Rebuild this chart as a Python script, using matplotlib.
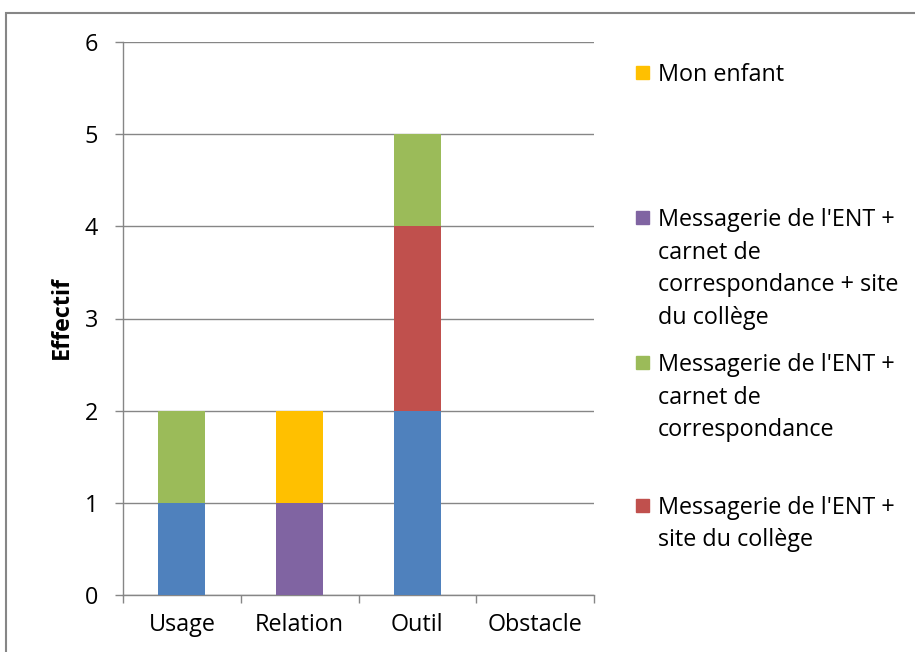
import matplotlib
matplotlib.use("Agg")
import matplotlib.pyplot as plt
from matplotlib.patches import Rectangle
import numpy as np

categories = ["Usage", "Relation", "Outil", "Obstacle"]
series_names = [
    "Messagerie de l'ENT",
    "Messagerie de l'ENT + site du collège",
    "Messagerie de l'ENT + carnet de correspondance",
    "Messagerie de l'ENT + carnet de correspondance + site du collège",
    "Mon enfant",
]
series_values = [
    [1, 0, 2, 0],
    [0, 0, 2, 0],
    [1, 0, 1, 0],
    [0, 1, 0, 0],
    [0, 1, 0, 0],
]
series_colors = ["#4F81BD", "#C0504D", "#9BBB59", "#8064A2", "#FFC000"]
yticks = [0, 1, 2, 3, 4, 5, 6]

# legend entries visible in the picture (top to bottom), with wrapped labels
legend_items = [
    (4, ["Mon enfant"]),
    (3, ["Messagerie de l'ENT +", "carnet de", "correspondance + site", "du collège"]),
    (2, ["Messagerie de l'ENT +", "carnet de", "correspondance"]),
    (1, ["Messagerie de l'ENT +", "site du collège"]),
]
legend_y = [72, 217, 362, 505]
line_step = 32.5

plt.rcParams['font.family'] = ['Open Sans', 'DejaVu Sans']
FS = 16.8
W, H = 915, 652
fig = plt.figure(figsize=(W / 100, H / 100), dpi=100)

# outer chart border (cropped on right and bottom)
fig.patches.append(Rectangle((6 / W, -0.1), 1.2, 1 - 13 / H + 0.1, transform=fig.transFigure,
                             fill=False, edgecolor="#868686", linewidth=1.5))

ax = fig.add_axes([123 / W, 1 - 595 / H, (594 - 123) / W, (595 - 42) / H])
x = np.arange(len(categories))
bottom = np.zeros(len(categories))
for vals, c in zip(series_values, series_colors):
    v = np.array(vals, dtype=float)
    ax.bar(x, v, width=0.4, bottom=bottom, color=c, zorder=3)
    bottom += v

ax.set_xlim(-0.5, len(categories) - 0.5)
ax.set_ylim(0, 6)
ax.set_yticks(yticks)
ax.set_yticklabels([str(t) for t in yticks], fontsize=FS)
ax.set_xticks(x)
ax.set_xticklabels(categories, fontsize=FS)
ax.tick_params(axis='x', length=0, pad=13)
ax.set_xticks(np.arange(-0.5, len(categories)), minor=True)
ax.tick_params(axis='x', which='minor', length=6, color="#868686", width=1)
ax.tick_params(axis='y', length=6, color="#868686", width=1, pad=12)
ax.grid(axis='y', color="#868686", linewidth=1, zorder=0)
for s in ["top", "right"]:
    ax.spines[s].set_visible(False)
for s in ["left", "bottom"]:
    ax.spines[s].set_color("#868686")
    ax.spines[s].set_linewidth(1)
ax.set_ylabel("Effectif", fontsize=FS, fontweight="bold")
ax.yaxis.label.set_va("center")
ax.yaxis.set_label_coords((62 - 123) / 471, (595 - 318) / 553)

# legend
for (idx, lines), yy in zip(legend_items, legend_y):
    fig.patches.append(Rectangle((636 / W, 1 - (yy + 7) / H), 13 / W, 13 / H,
                                 transform=fig.transFigure, color=series_colors[idx]))
    for i, ln in enumerate(lines):
        fig.text(658 / W, 1 - (yy + i * line_step) / H, ln, fontsize=FS, va="center_baseline",
                 ha="left", transform=fig.transFigure)

fig.savefig("out.png", dpi=100)
